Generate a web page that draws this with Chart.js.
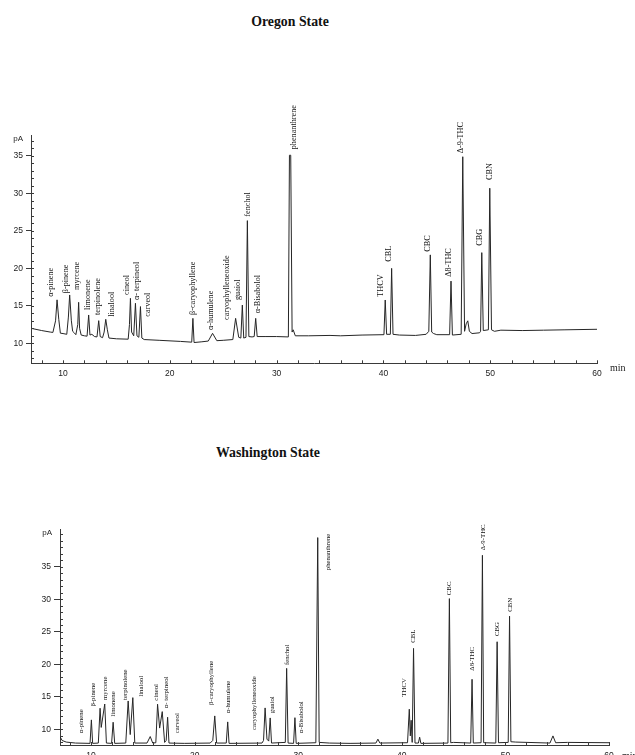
<!DOCTYPE html>
<html><head><meta charset="utf-8">
<script src="https://cdn.jsdelivr.net/npm/chart.js@4/dist/chart.umd.min.js"></script>
<style>
html,body{margin:0;padding:0;background:#fff;overflow:hidden;width:635px;height:755px;position:relative;}
.title{position:absolute;font-family:"Liberation Serif","Times New Roman",serif;font-weight:bold;font-size:13.8px;color:#111;white-space:nowrap;transform:translateX(-50%);line-height:18px;}
canvas{position:absolute;left:0;}
</style></head><body>
<div class="title" style="left:290px;top:13px">Oregon State</div>
<div class="title" style="left:268px;top:444px">Washington State</div>
<canvas id="c1" width="635" height="385" style="top:0px"></canvas>
<canvas id="c2" width="635" height="300" style="top:480px"></canvas>
<script>
// ---- data ----
const timeTicks = [10, 20, 30, 40, 50, 60];
const signalTicks = [10, 15, 20, 25, 30, 35];
const compounds = ["α-pinene","β-pinene","myrcene","limonene","terpinolene","linalool","cineol","α- terpineol","carveol","β-caryophyllene","α-humulene","caryophylleneoxide","guaiol","fenchol","α-Bisabolol","phenanthrene","THCV","CBL","CBC","Δ8-THC","Δ-9-THC","CBG","CBN"];

const oregonTime = [7.0,8.0,8.8,9.05,9.3,9.44,9.6,9.75,10.0,10.35,10.5,10.62,10.78,10.9,11.05,11.2,11.38,11.46,11.55,11.7,12.0,12.25,12.4,12.52,12.7,12.95,13.18,13.34,13.48,13.7,13.85,14.0,14.15,14.3,15.0,16.1,16.22,16.31,16.42,16.62,16.78,16.92,17.1,17.25,17.38,17.6,19.0,21.0,22.05,22.16,22.27,23.0,23.6,24.0,24.4,25.0,25.9,26.16,26.45,26.65,26.79,26.92,27.13,27.26,27.4,27.7,27.9,28.04,28.18,29.0,30.0,31.1,31.2,31.32,31.45,31.55,31.75,33.0,35.0,36.0,38.0,40.05,40.17,40.3,40.65,40.77,40.9,41.5,43.0,44.0,44.25,44.39,44.52,44.7,45.0,46.2,46.33,46.46,47.28,47.43,47.6,47.75,47.9,48.05,48.3,49.0,49.1,49.21,49.35,49.83,49.96,50.12,50.4,51.0,53.0,55.0,57.0,60.0];
const oregonSignal = [12.0,11.7,11.5,11.45,13.0,15.8,13.2,11.35,11.3,11.2,13.5,16.45,13.0,11.6,11.4,11.15,12.5,15.47,12.0,11.1,11.0,10.95,13.78,11.1,11.2,10.9,10.85,13.02,10.9,10.75,11.5,13.2,11.8,10.7,10.6,10.55,12.5,16.0,11.5,11.0,15.34,11.0,10.8,14.9,10.7,10.5,10.4,10.25,10.15,13.33,10.1,10.2,10.3,11.33,10.35,10.4,10.5,13.33,10.8,10.7,15.1,10.7,10.8,26.37,10.9,10.85,10.9,13.33,10.9,10.9,10.9,10.85,35.1,35.1,11.5,11.8,11.0,11.0,11.05,11.0,11.1,11.15,15.78,11.2,11.2,20.0,11.2,11.1,11.05,11.2,11.6,21.8,11.5,11.3,11.15,11.15,18.3,11.1,11.2,34.9,11.6,12.6,13.0,11.6,11.3,11.4,11.6,22.1,11.7,11.8,30.7,11.8,11.6,11.75,11.7,11.75,11.8,11.87];
const oregonLabelTime = [8.9,10.22,11.31,12.35,13.28,14.53,15.94,16.94,17.97,22.2,23.82,25.38,26.38,27.26,28.2,31.58,39.77,40.49,44.15,46.12,47.27,49.05,49.96];
const oregonLabelLevel = [16.22,16.68,17.12,14.45,13.78,13.55,16.45,15.78,13.55,13.78,11.78,13.11,15.78,26.9,14.0,35.9,16.22,20.9,22.23,18.89,35.37,23.03,31.8];

const washingtonTime = [7.0,7.2,7.6,8.5,9.9,10.03,10.15,10.7,10.87,10.98,11.32,11.48,11.98,12.13,12.28,13.35,13.58,13.78,14.03,14.22,15.4,15.71,15.95,16.25,16.42,16.62,16.87,17.1,17.25,17.39,17.52,19.0,21.5,21.75,21.94,22.12,23.05,23.19,23.32,26.5,26.65,26.8,26.98,27.15,27.29,27.42,28.75,28.88,29.02,29.55,29.68,29.8,31.7,31.88,32.02,33.0,35.0,37.5,37.69,37.88,40.55,40.72,40.82,40.9,41.0,41.13,41.27,41.6,41.72,41.84,44.45,44.59,44.72,45.0,46.65,46.78,46.9,47.65,47.78,47.9,49.07,49.2,49.33,50.27,50.4,50.53,51.0,54.3,54.59,54.85,56.0,60.0];
const washingtonSignal = [8.9,8.3,8.05,7.9,7.85,11.46,7.85,7.9,13.25,10.3,13.9,7.9,7.85,11.1,7.85,7.9,14.37,9.2,14.88,7.9,7.9,8.9,7.9,7.95,13.87,10.2,12.73,8.0,8.3,11.87,7.9,7.85,7.9,8.3,12.07,7.9,7.9,11.15,7.85,7.9,8.3,13.3,8.5,8.2,11.76,7.9,8.0,19.38,7.9,7.85,11.8,7.85,7.95,39.48,8.0,7.9,7.85,7.9,8.5,7.9,7.95,13.1,9.0,11.4,8.0,22.45,7.9,7.9,8.8,7.85,7.9,30.1,7.95,8.0,7.9,17.7,7.9,7.95,36.76,7.95,7.9,23.47,7.95,8.0,27.4,8.1,8.05,7.9,9.0,7.95,8.0,7.95];
const washingtonLabelTime = [9.03,10.25,11.32,12.09,13.32,14.84,16.29,17.26,18.33,21.62,23.22,25.71,27.45,28.94,30.33,32.85,40.23,41.13,44.56,46.79,47.85,49.21,50.49];
const washingtonLabelLevel = [9.42,13.5,14.52,11.96,14.52,15.03,14.42,13.25,9.42,13.76,12.48,9.92,12.48,19.89,9.42,34.46,15.03,23.31,30.63,19.02,37.53,24.34,28.07];

// ---- drawing ----
const AXIS = '#3a3a3a';
const decorPlugin = {
  id: 'decor',
  afterDraw(chart, args, o) {
    const ctx = chart.ctx, xs = chart.scales.x, ys = chart.scales.y, ca = chart.chartArea;
    ctx.save();
    ctx.strokeStyle = AXIS; ctx.lineWidth = 1;
    ctx.beginPath();
    for (let t = 8; t <= 60; t += 2) {
      const px = Math.round(xs.getPixelForValue(t)) + 0.5;
      ctx.moveTo(px, ca.bottom); ctx.lineTo(px, ca.bottom - 3);
    }
    for (let v = Math.ceil(ys.min); v <= Math.floor(ys.max); v += 1) {
      const py = Math.round(ys.getPixelForValue(v)) + 0.5;
      ctx.moveTo(ca.left, py); ctx.lineTo(ca.left + 3, py);
    }
    ctx.stroke();
    ctx.fillStyle = '#222';
    ctx.font = '8px "Liberation Sans", Arial, sans-serif';
    ctx.textAlign = 'right'; ctx.textBaseline = 'middle';
    ctx.fillText('pA', ca.left - 8, ca.top + 4);
    ctx.font = '10px "Liberation Serif", serif';
    ctx.textAlign = 'left'; ctx.textBaseline = 'top';
    ctx.fillText('min', ca.right + 13, ca.bottom + o.minDy);
    ctx.font = o.labelFont;
    ctx.fillStyle = '#111';
    ctx.textBaseline = 'middle'; ctx.textAlign = 'left';
    for (let i = 0; i < compounds.length; i++) {
      const px = xs.getPixelForValue(o.labelTimes[i]);
      const py = ys.getPixelForValue(o.labelLevels[i]);
      ctx.save();
      ctx.translate(px, py);
      ctx.rotate(-Math.PI / 2);
      ctx.fillText(compounds[i], 0, 0);
      ctx.restore();
    }
    ctx.restore();
  }
};

function makeChart(id, times, signal, cfg) {
  return new Chart(document.getElementById(id), {
    type: 'line',
    data: { datasets: [{
      data: times.map((t, i) => ({ x: t, y: signal[i] })),
      borderColor: '#262626', borderWidth: 1, pointRadius: 0, tension: 0, fill: false
    }]},
    options: {
      responsive: false, animation: false, events: [],
      layout: { padding: { top: cfg.padTop, right: cfg.padRight, left: 0, bottom: 0 } },
      plugins: { legend: { display: false }, tooltip: { enabled: false },
        decor: { labelFont: cfg.labelFont, labelTimes: cfg.labelTimes, labelLevels: cfg.labelLevels, minDy: cfg.minDy } },
      scales: {
        x: { type: 'linear', min: 7, max: 60,
          afterBuildTicks: s => { s.ticks = timeTicks.map(v => ({ value: v })); },
          afterFit: s => { s.height = cfg.xAxisH; },
          grid: { drawOnChartArea: false, drawTicks: false },
          border: { color: AXIS, width: 1 },
          ticks: { color: '#222', padding: cfg.xPad, maxRotation: 0, autoSkip: false,
            font: { family: '"Liberation Sans", Arial, sans-serif', size: 8.5 } } },
        y: { type: 'linear', min: cfg.ymin, max: cfg.ymax,
          afterBuildTicks: s => { s.ticks = signalTicks.map(v => ({ value: v })); },
          afterFit: s => { s.width = cfg.yAxisW; },
          grid: { drawOnChartArea: false, drawTicks: true, tickLength: cfg.tickLen, color: AXIS },
          border: { color: AXIS, width: 1 },
          ticks: { color: '#222', padding: 3,
            font: { family: '"Liberation Sans", Arial, sans-serif', size: 8.5 } } }
      }
    },
    plugins: [decorPlugin]
  });
}

makeChart('c1', oregonTime, oregonSignal, {
  ymin: 7.33, ymax: 37.8, padTop: 135, padRight: 38, yAxisW: 31, xAxisH: 385 - 363.3,
  xPad: 5, tickLen: 5, labelFont: '8.2px "Liberation Serif", serif', minDy: 0,
  labelTimes: oregonLabelTime, labelLevels: oregonLabelLevel
});
makeChart('c2', washingtonTime, washingtonSignal, {
  ymin: 7.6, ymax: 40.8, padTop: 49, padRight: 26, yAxisW: 60, xAxisH: 35,
  xPad: 6, tickLen: 6, labelFont: '6.8px "Liberation Serif", serif', minDy: 6,
  labelTimes: washingtonLabelTime, labelLevels: washingtonLabelLevel
});
</script>
</body></html>
